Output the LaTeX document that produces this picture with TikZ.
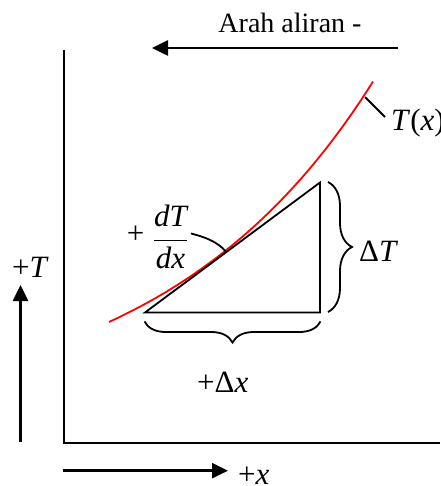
\RequirePackage{fix-cm}
\documentclass[tikz,border=0pt]{standalone}
\usepackage{fontspec}
\setmainfont{Liberation Serif}
\usetikzlibrary{decorations.pathreplacing,arrows.meta}
\begin{document}
\begin{tikzpicture}[x=1pt,y=-1pt,
  lbl/.style={inner sep=0pt, font=\fontsize{31}{35}\selectfont},
  flowlbl/.style={inner sep=0pt, font=\fontsize{28}{32}\selectfont},
  axis/.style={line width=2pt},
  thinline/.style={line width=1.8pt},
  bigarrow/.style={line width=2.6pt, -{Triangle[length=16pt,width=15pt]}},
  bracestyle/.style={decorate, line width=1.8pt},
]
\useasboundingbox (0,0) rectangle (440,486);

% axes
\coordinate (ytop) at (64,50);
\coordinate (o) at (64,443);
\coordinate (xend) at (440,443);
\draw[axis] (ytop) -- (o) -- (xend);

% flow direction
\coordinate (fa) at (398,48);
\coordinate (fb) at (152,48);
\draw[bigarrow] (fa) -- (fb);
\node[flowlbl, anchor=base] (flow) at (290,33) {Arah aliran -};

% +T arrow
\coordinate (ta) at (20.5,442);
\coordinate (tb) at (20.5,285);
\draw[bigarrow] (ta) -- (tb);
\node[lbl, anchor=base west] (tlbl) at (12,277) {+\textit{T}};

% +x arrow
\coordinate (xa) at (63,470.7);
\coordinate (xb) at (228,470.7);
\draw[bigarrow] (xa) -- (xb);
\node[lbl, anchor=base west] (xlbl) at (238,484) {+\textit{x}};

% curve T(x)
\draw[red, line width=1.8pt] plot[domain=109:373, samples=90] (\x, {419.8-58.6*exp(0.0047*\x)});
\coordinate (tp) at (226,251.7);
\coordinate (lp) at (365,97);
\coordinate (lead) at (385,117);
\draw[thinline] (lp) -- (lead);
\node[lbl, anchor=base west] (txlbl) at (391,131) {\textit{T}(\textit{x})};

% triangle
\coordinate (A) at (145,312.5);
\coordinate (B) at (320,312.5);
\coordinate (C) at (320,182.5);
\draw[thinline] (A) -- (B) -- (C) -- cycle;

% braces
\coordinate (b1) at (320.5,321.5);
\coordinate (b2) at (144.5,321.5);
\draw[bracestyle, decoration={brace, amplitude=21pt}] (b1) -- (b2);
\node[lbl, anchor=base west] (dxlbl) at (197,392) {+Δ\textit{x}};

\coordinate (r1) at (328,182);
\coordinate (r2) at (328,312);
\draw[bracestyle, decoration={brace, amplitude=24pt}] (r1) -- (r2);
\node[lbl, anchor=base west] (dtlbl) at (359,261) {Δ\textit{T}};

% slope label
\node[lbl] (plus) at (135.5,235) {+};
\node[lbl] (frac) at (170.5,237) {$\displaystyle\frac{\textit{dT}}{\textit{dx}}$};
\coordinate (arcstart) at (191,233.5);
\draw[thinline] (arcstart) .. controls (205,237) and (218,242) .. (tp);
\end{tikzpicture}
\end{document}
